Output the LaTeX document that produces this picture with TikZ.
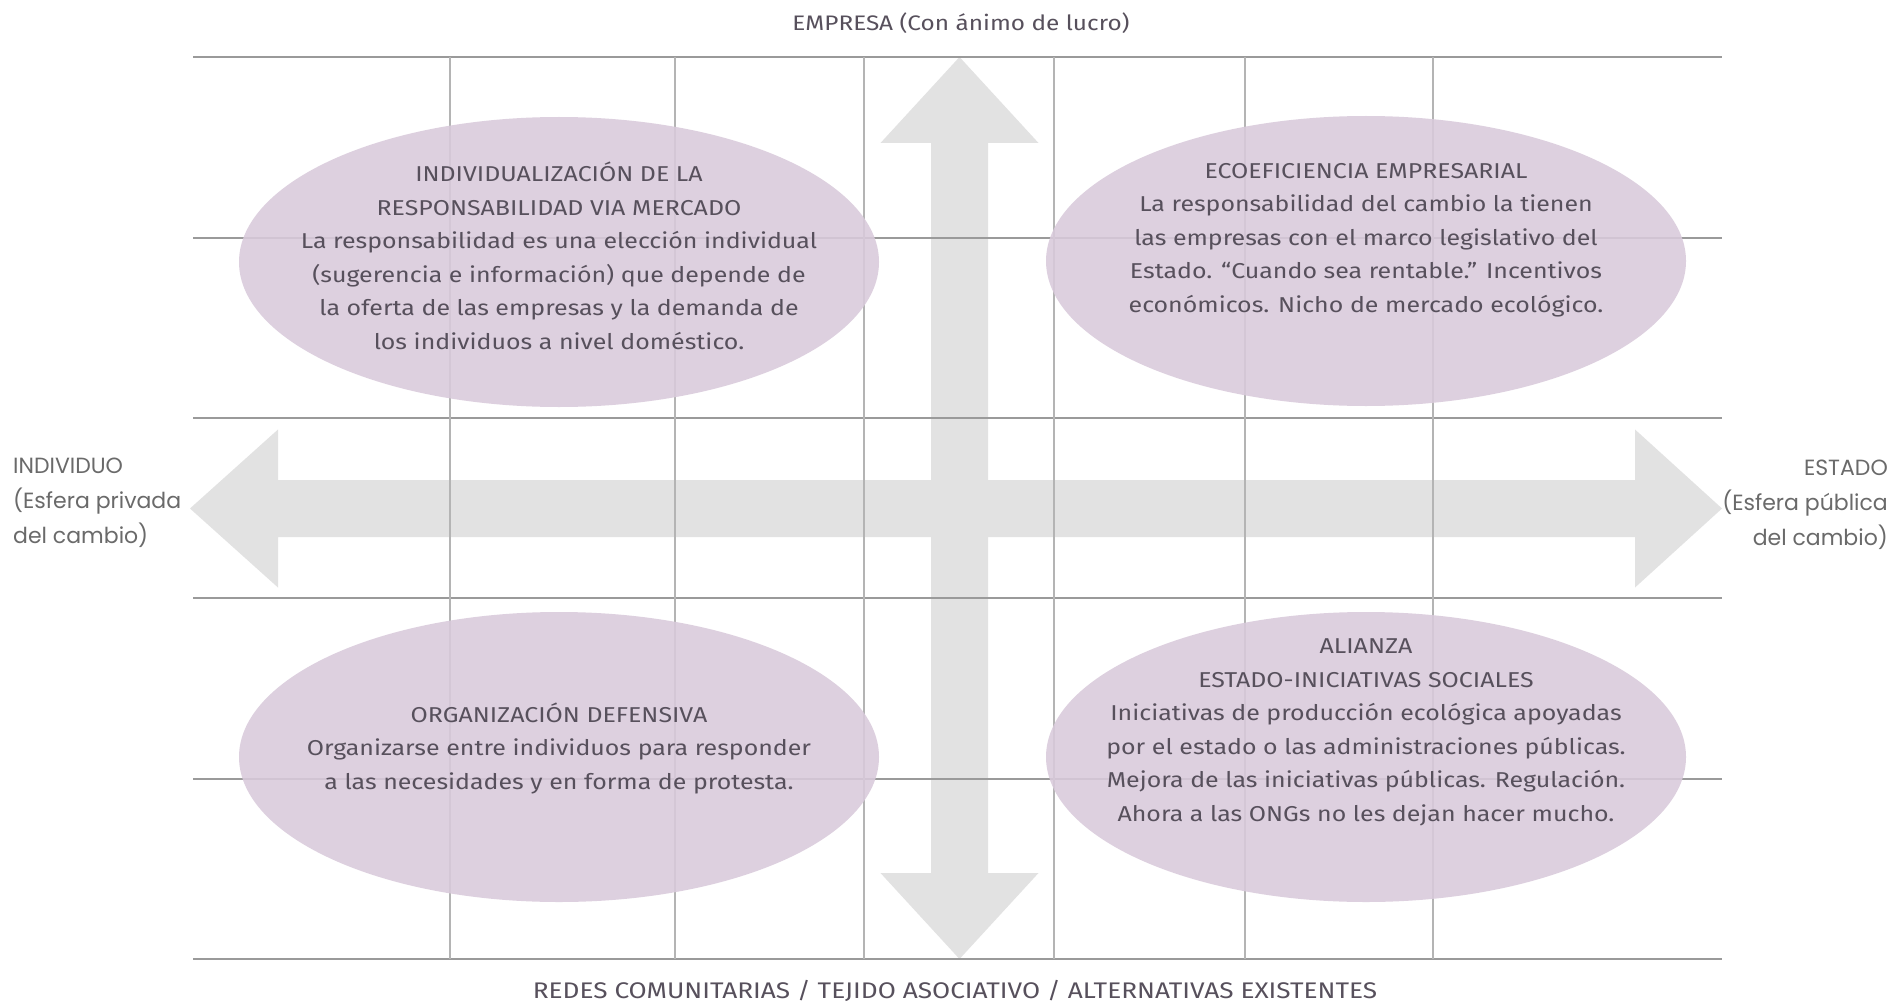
\documentclass[tikz,border=0pt]{standalone}
\usepackage{fontspec}
\setmainfont{Fira Sans}[FakeStretch=1.16]
\newfontfamily\labfont{Poppins}
\usetikzlibrary{shapes.geometric}
\definecolor{arrowgray}{HTML}{E2E2E2}
\definecolor{gridh}{HTML}{9A9A9A}
\definecolor{gridv}{HTML}{B4B4B4}
\definecolor{lilac}{HTML}{D9CADB}
\definecolor{txt}{HTML}{57505C}
\definecolor{labtxt}{HTML}{6A6A6A}
\tikzset{
  bigarrow/.style={fill=arrowgray, draw=none},
  hline/.style={draw=gridh, line width=2pt},
  vline/.style={draw=gridv, line width=1.6pt},
  ell/.style={ellipse, inner sep=0pt, minimum width=640pt, minimum height=290pt,
              fill=lilac, fill opacity=0.88, draw=none},
  etext/.style={text=txt, align=center, inner sep=0pt,
                font=\fontsize{21.5}{33.5}\selectfont},
  axtext/.style={text=txt, inner sep=0pt},
  sidetext/.style={text=labtxt, inner sep=0pt,
                   font=\labfont\fontsize{22}{35}\selectfont}
}
\begin{document}
\begin{tikzpicture}[x=1pt,y=-1pt]
\useasboundingbox (0,0) rectangle (1894,1003);
\fill[white] (0,0) rectangle (1894,1003);
% big double arrows
\fill[bigarrow] (959.5,57) -- (1038.5,143) -- (988,143) -- (988,873) -- (1038.5,873)
  -- (959.5,959) -- (880.5,873) -- (931,873) -- (931,143) -- (880.5,143) -- cycle;
\fill[bigarrow] (190,508.5) -- (278,429.5) -- (278,480) -- (1635,480) -- (1635,429.5)
  -- (1722,508.5) -- (1635,587.5) -- (1635,537) -- (278,537) -- (278,587.5) -- cycle;
% grid
\foreach \yy in {57,237.5,418,598,779,959}{\draw[hline] (193,\yy) -- (1722,\yy);}
\foreach \xx in {450,675,864,1054,1245,1433}{\draw[vline] (\xx,57) -- (\xx,959);}
% ellipses
\node[ell] (tl) at (559,262) {};
\node[ell] (tr) at (1366,261) {};
\node[ell] (bl) at (559,757) {};
\node[ell] (br) at (1366,757) {};
% ellipse texts
\node[etext] (tlt) at (559,256) {INDIVIDUALIZACIÓN DE LA\\RESPONSABILIDAD VIA MERCADO\\La responsabilidad es una elección individual\\(sugerencia e información) que depende de\\la oferta de las empresas y la demanda de\\los individuos a nivel doméstico.};
\node[etext] (trt) at (1366,240) {ECOEFICIENCIA EMPRESARIAL\\La responsabilidad del cambio la tienen\\las empresas con el marco legislativo del\\Estado. “Cuando sea rentable.” Incentivos\\económicos. Nicho de mercado ecológico.};
\node[etext] (blt) at (559,748) {ORGANIZACIÓN DEFENSIVA\\Organizarse entre individuos para responder\\a las necesidades y en forma de protesta.};
\node[etext] (brt) at (1366,732.5) {ALIANZA\\ESTADO-INICIATIVAS SOCIALES\\Iniciativas de producción ecológica apoyadas\\por el estado o las administraciones públicas.\\Mejora de las iniciativas públicas. Regulación.\\Ahora a las ONGs no les dejan hacer mucho.};
% axis labels
\node[axtext, font=\fontsize{21}{24}\selectfont] (top) at (961,23) {EMPRESA (Con ánimo de lucro)};
\node[axtext, font=\fontsize{22.6}{26}\selectfont] (bot) at (955,991) {REDES COMUNITARIAS / TEJIDO ASOCIATIVO / ALTERNATIVAS EXISTENTES};
\node[sidetext, anchor=west, align=left] (ind) at (13,503) {INDIVIDUO\\(Esfera privada\\del cambio)};
\node[sidetext, anchor=east, align=right] (est) at (1888,505) {ESTADO\\(Esfera pública\\del cambio)};
\end{tikzpicture}
\end{document}
